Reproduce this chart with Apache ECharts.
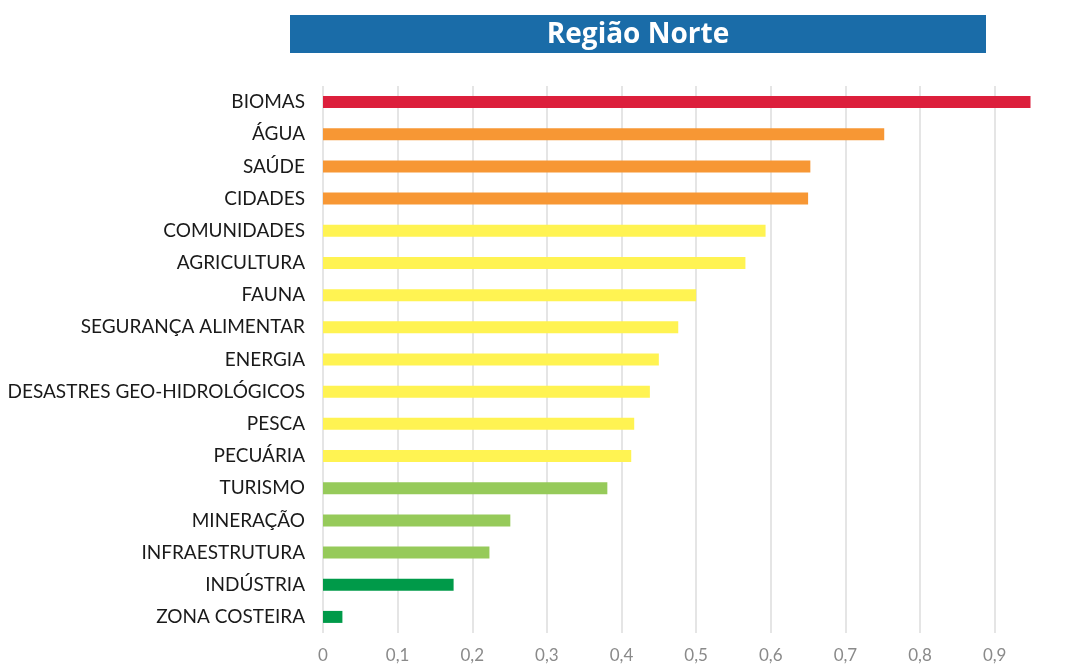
<!DOCTYPE html>
<html>
<head>
<meta charset="utf-8">
<script src="https://cdn.jsdelivr.net/npm/echarts@6/dist/echarts.min.js"></script>
<style>
  html, body { margin: 0; padding: 0; background: #fff; }
  #chart { width: 1066px; height: 664px; }
</style>
</head>
<body>
<div id="chart"></div>
<script>
// categorias (de cima para baixo)
var categories = [
  "BIOMAS", "ÁGUA", "SAÚDE", "CIDADES", "COMUNIDADES", "AGRICULTURA", "FAUNA",
  "SEGURANÇA ALIMENTAR", "ENERGIA", "DESASTRES GEO-HIDROLÓGICOS", "PESCA",
  "PECUÁRIA", "TURISMO", "MINERAÇÃO", "INFRAESTRUTURA", "INDÚSTRIA", "ZONA COSTEIRA"
];
var values = [
  0.948, 0.752, 0.653, 0.650, 0.593, 0.566, 0.500,
  0.476, 0.450, 0.438, 0.417,
  0.413, 0.381, 0.251, 0.223, 0.175, 0.026
];
var title = "Região Norte";

// cores por faixa de 0,2
function levelColor(v) {
  if (v >= 0.8) return "#DC1F3C";
  if (v >= 0.6) return "#F79734";
  if (v >= 0.4) return "#FFF352";
  if (v >= 0.2) return "#96CA5A";
  return "#009A49";
}

var myChart = echarts.init(document.getElementById("chart"));
myChart.setOption({
  animation: false,
  graphic: [
    {
      type: "rect",
      shape: { x: 290, y: 15, width: 696, height: 38 },
      style: { fill: "#1A6CA8" },
    },
    {
      type: "text",
      x: 638,
      y: 35,
      style: {
        text: title,
        fill: "#fff",
        font: "bold 28px 'Open Sans'",
        align: "center",
        verticalAlign: "middle",
      },
    },
  ],
  grid: {
    left: 323,
    right: 34,
    top: 86,
    bottom: 29,
  },
  xAxis: {
    type: "value",
    min: 0,
    max: 0.95,
    interval: 0.1,
    axisLine: { show: false },
    axisTick: { show: false },
    splitLine: {
      show: true,
      showMaxLine: false,
      lineStyle: { color: "#DCDCDC", width: 1.5 },
    },
    axisLabel: {
      showMaxLabel: false,
      margin: 14,
      color: "#8A8A8A",
      fontSize: 17,
      fontFamily: "Lato",
      formatter: function (v) {
        return String(Math.round(v * 10) / 10).replace(".", ",");
      },
    },
  },
  yAxis: {
    type: "category",
    inverse: true,
    data: categories,
    axisTick: { show: false },
    axisLine: { show: false },
    axisLabel: {
      margin: 18,
      color: "#1A1A1A",
      fontSize: 19,
      fontFamily: "Lato",
    },
  },
  series: [
    {
      type: "bar",
      data: values,
      barWidth: 12,
      itemStyle: {
        color: function (p) {
          return levelColor(p.value);
        },
      },
    },
  ],
});
</script>
</body>
</html>
